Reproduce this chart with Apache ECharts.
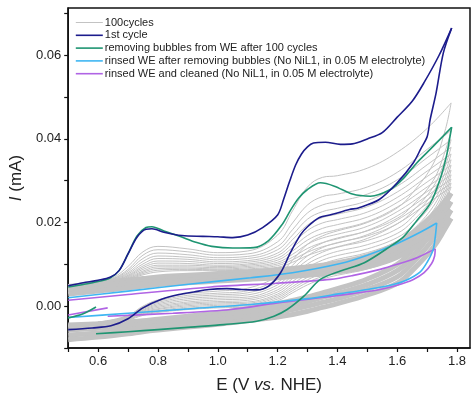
<!DOCTYPE html>
<html><head><meta charset="utf-8">
<script src="https://cdn.jsdelivr.net/npm/echarts@6/dist/echarts.min.js"></script>
<style>html,body{margin:0;padding:0;background:#fff}#c{width:471px;height:400px}</style>
</head><body><div id="c"></div>
<script>
// ---- data ----
const legendNames = ['100cycles','1st cycle','removing bubbles from WE after 100 cycles',
 'rinsed WE after removing bubbles (No NiL1, in 0.05 M electrolyte)',
 'rinsed WE and cleaned (No NiL1, in 0.05 M electrolyte)'];
const xTicks = [0.6,0.8,1.0,1.2,1.4,1.6,1.8];
const yTicks = [0.00,0.02,0.04,0.06];

// grey cycles: potentials of forward (anodic) and backward (cathodic) scans
const gxF = [0.5,0.6,0.65,0.7,0.75,0.8,0.9,1.0,1.1,1.2,1.25,1.3,1.35,1.4,1.5,1.6,1.7,1.78];
const gxB = [1.78,1.76,1.72,1.65,1.6,1.5,1.4,1.35,1.3,1.25,1.2,1.1,1.0,0.9,0.8,0.75,0.7,0.6,0.5];
const greyF = [
 [0.0046,0.0058,0.0068,0.0095,0.0130,0.0143,0.0137,0.0128,0.0132,0.0170,0.0228,0.0285,0.0308,0.0312,0.0330,0.0368,0.0425,0.0486],
 [0.0045,0.0057,0.0066,0.0088,0.0122,0.0135,0.0130,0.0122,0.0125,0.0154,0.0199,0.0242,0.0262,0.0268,0.0285,0.0320,0.0375,0.0420],
 [0.0045,0.0056,0.0065,0.0084,0.0114,0.0127,0.0123,0.0116,0.0119,0.0143,0.0183,0.0223,0.0242,0.0250,0.0268,0.0302,0.0355,0.0398],
 [0.0044,0.0055,0.0064,0.0080,0.0107,0.0120,0.0117,0.0111,0.0114,0.0135,0.0170,0.0208,0.0226,0.0234,0.0252,0.0287,0.0338,0.0380],
 [0.0044,0.0055,0.0063,0.0077,0.0101,0.0114,0.0112,0.0106,0.0109,0.0127,0.0159,0.0194,0.0212,0.0220,0.0238,0.0273,0.0323,0.0364],
 [0.0043,0.0054,0.0062,0.0074,0.0096,0.0108,0.0107,0.0102,0.0105,0.0121,0.0149,0.0181,0.0199,0.0207,0.0225,0.0260,0.0310,0.0350],
 [0.0043,0.0053,0.0061,0.0072,0.0092,0.0103,0.0102,0.0098,0.0101,0.0115,0.0140,0.0169,0.0186,0.0195,0.0213,0.0248,0.0297,0.0337],
 [0.0042,0.0053,0.0060,0.0070,0.0088,0.0098,0.0098,0.0095,0.0098,0.0110,0.0132,0.0158,0.0174,0.0183,0.0202,0.0237,0.0285,0.0325],
 [0.0042,0.0052,0.0059,0.0068,0.0084,0.0094,0.0094,0.0092,0.0095,0.0105,0.0124,0.0148,0.0163,0.0172,0.0191,0.0226,0.0274,0.0314],
 [0.0041,0.0052,0.0058,0.0066,0.0081,0.0090,0.0091,0.0089,0.0092,0.0101,0.0117,0.0138,0.0152,0.0161,0.0181,0.0216,0.0264,0.0304],
 [0.0041,0.0051,0.0057,0.0065,0.0078,0.0086,0.0088,0.0087,0.0089,0.0097,0.0111,0.0129,0.0142,0.0151,0.0171,0.0206,0.0254,0.0294],
 [0.0040,0.0051,0.0057,0.0064,0.0075,0.0082,0.0085,0.0085,0.0087,0.0093,0.0105,0.0121,0.0133,0.0142,0.0162,0.0197,0.0245,0.0285]
];
const greyB = [
 [0.0486,0.0420,0.0340,0.0270,0.0235,0.0200,0.0180,0.0168,0.0148,0.0110,0.0072,0.0043,0.0036,0.0030,0.0015,0.0000,-0.0022,-0.0038,-0.0044],
 [0.0420,0.0370,0.0300,0.0240,0.0210,0.0180,0.0163,0.0151,0.0131,0.0098,0.0064,0.0037,0.0031,0.0026,0.0012,-0.0002,-0.0023,-0.0039,-0.0045],
 [0.0398,0.0350,0.0285,0.0226,0.0197,0.0168,0.0152,0.0140,0.0120,0.0089,0.0057,0.0032,0.0027,0.0022,0.0009,-0.0004,-0.0024,-0.0040,-0.0046],
 [0.0380,0.0334,0.0272,0.0213,0.0185,0.0157,0.0141,0.0129,0.0110,0.0081,0.0051,0.0027,0.0023,0.0018,0.0006,-0.0006,-0.0025,-0.0040,-0.0046],
 [0.0364,0.0320,0.0260,0.0202,0.0174,0.0147,0.0131,0.0119,0.0101,0.0073,0.0045,0.0022,0.0019,0.0014,0.0003,-0.0008,-0.0026,-0.0041,-0.0047],
 [0.0350,0.0307,0.0249,0.0191,0.0164,0.0137,0.0121,0.0110,0.0092,0.0066,0.0039,0.0018,0.0015,0.0010,0.0000,-0.0010,-0.0027,-0.0041,-0.0047],
 [0.0337,0.0295,0.0238,0.0181,0.0155,0.0128,0.0112,0.0101,0.0084,0.0059,0.0034,0.0014,0.0011,0.0007,-0.0003,-0.0012,-0.0028,-0.0042,-0.0048],
 [0.0325,0.0284,0.0228,0.0172,0.0146,0.0119,0.0103,0.0093,0.0076,0.0053,0.0029,0.0010,0.0008,0.0004,-0.0006,-0.0014,-0.0029,-0.0042,-0.0048],
 [0.0314,0.0274,0.0219,0.0163,0.0138,0.0111,0.0095,0.0085,0.0069,0.0047,0.0025,0.0007,0.0005,0.0001,-0.0008,-0.0016,-0.0030,-0.0043,-0.0049],
 [0.0304,0.0265,0.0210,0.0155,0.0130,0.0103,0.0088,0.0078,0.0063,0.0042,0.0021,0.0004,0.0002,-0.0002,-0.0011,-0.0018,-0.0031,-0.0043,-0.0049],
 [0.0294,0.0256,0.0202,0.0147,0.0122,0.0096,0.0081,0.0071,0.0057,0.0037,0.0017,0.0001,-0.0001,-0.0005,-0.0013,-0.0020,-0.0032,-0.0044,-0.0050],
 [0.0285,0.0248,0.0194,0.0140,0.0115,0.0089,0.0074,0.0065,0.0051,0.0032,0.0013,-0.0002,-0.0004,-0.0008,-0.0015,-0.0022,-0.0033,-0.0044,-0.0050]
];
// dense late cycles (grey band)
const bandF = [
 [0.0047,0.0054,0.0058,0.0062,0.0066,0.0070,0.0074,0.0078,0.0082,0.0087,0.0090,0.0094,0.0098,0.0104,0.0120,0.0150,0.0205,0.0270],
 [0.0041,0.0048,0.0052,0.0056,0.0060,0.0064,0.0068,0.0072,0.0076,0.0080,0.0083,0.0087,0.0091,0.0096,0.0110,0.0138,0.0190,0.0250],
 [0.0035,0.0042,0.0046,0.0050,0.0054,0.0058,0.0062,0.0066,0.0070,0.0074,0.0077,0.0080,0.0084,0.0089,0.0102,0.0127,0.0175,0.0230],
 [0.0029,0.0036,0.0040,0.0044,0.0048,0.0052,0.0056,0.0060,0.0064,0.0068,0.0071,0.0074,0.0077,0.0082,0.0094,0.0117,0.0160,0.0210]
];
const bandB = [
 [0.0270,0.0245,0.0200,0.0135,0.0100,0.0065,0.0042,0.0032,0.0022,0.0014,0.0006,-0.0006,-0.0016,-0.0024,-0.0031,-0.0035,-0.0038,-0.0042,-0.0045],
 [0.0250,0.0225,0.0180,0.0118,0.0085,0.0052,0.0030,0.0021,0.0011,0.0003,-0.0004,-0.0015,-0.0024,-0.0032,-0.0039,-0.0043,-0.0047,-0.0053,-0.0057],
 [0.0230,0.0205,0.0160,0.0102,0.0070,0.0040,0.0018,0.0009,0.0000,-0.0008,-0.0015,-0.0025,-0.0033,-0.0040,-0.0047,-0.0052,-0.0057,-0.0064,-0.0069],
 [0.0210,0.0185,0.0140,0.0085,0.0055,0.0027,0.0006,-0.0003,-0.0012,-0.0020,-0.0026,-0.0035,-0.0043,-0.0050,-0.0057,-0.0061,-0.0066,-0.0074,-0.0080]
];

// 1st cycle
const firstF = [[0.5,0.0049],[0.55,0.0056],[0.6,0.0062],[0.64,0.0069],[0.67,0.0085],[0.7,0.0125],[0.73,0.0165],[0.76,0.0184],[0.78,0.0185],[0.82,0.0177],[0.88,0.0169],[0.95,0.0167],[1.0,0.0166],[1.05,0.0164],[1.1,0.0170],[1.15,0.0188],[1.2,0.0218],[1.22,0.0255],[1.24,0.0298],[1.26,0.0337],[1.28,0.0364],[1.30,0.0381],[1.32,0.0390],[1.36,0.0392],[1.41,0.0387],[1.45,0.0388],[1.5,0.0400],[1.55,0.0415],[1.6,0.0452],[1.65,0.0490],[1.69,0.0535],[1.74,0.0600],[1.782,0.0665]];
const firstB = [[1.782,0.0665],[1.754,0.0605],[1.73,0.0510],[1.71,0.0446],[1.70,0.0405],[1.68,0.0378],[1.654,0.0343],[1.6,0.0295],[1.54,0.0255],[1.47,0.0235],[1.44,0.0231],[1.38,0.0219],[1.34,0.0212],[1.3,0.0190],[1.277,0.0171],[1.243,0.0128],[1.21,0.0080],[1.17,0.0048],[1.13,0.0039],[1.08,0.0040],[1.03,0.0042],[0.97,0.0040],[0.92,0.0034],[0.87,0.0028],[0.81,0.0016],[0.75,-0.0004],[0.70,-0.0030],[0.643,-0.0047],[0.58,-0.0052],[0.5,-0.0056]];
// removing bubbles
const bubF = [[0.5,0.0046],[0.55,0.0052],[0.6,0.0059],[0.64,0.0067],[0.67,0.0085],[0.7,0.0125],[0.73,0.0168],[0.76,0.0188],[0.78,0.0190],[0.82,0.0180],[0.87,0.0168],[0.93,0.0152],[0.98,0.0143],[1.05,0.0139],[1.12,0.0140],[1.17,0.0157],[1.215,0.0195],[1.243,0.0229],[1.27,0.0258],[1.3,0.0279],[1.343,0.0295],[1.39,0.0287],[1.45,0.0268],[1.51,0.0263],[1.577,0.0279],[1.62,0.0305],[1.666,0.0343],[1.72,0.0382],[1.782,0.0428]];
const bubB = [[1.782,0.0428],[1.775,0.0400],[1.765,0.0360],[1.743,0.0303],[1.71,0.0245],[1.666,0.0205],[1.62,0.0165],[1.577,0.0143],[1.49,0.0104],[1.41,0.0084],[1.343,0.0064],[1.288,0.0024],[1.232,-0.0008],[1.188,-0.0024],[1.13,-0.0036],[1.02,-0.0044],[0.91,-0.0050],[0.8,-0.0056],[0.7,-0.0061],[0.593,-0.0066]];
const bubStart = [[0.5,-0.0028],[0.55,-0.0018],[0.593,-0.0002]];
// rinsed WE
const rinF = [[0.5,0.0020],[0.7,0.0036],[0.91,0.0053],[1.11,0.0068],[1.25,0.0080],[1.41,0.0102],[1.5,0.0122],[1.6,0.0150],[1.68,0.0178],[1.732,0.0199]];
const rinB = [[1.732,0.0199],[1.727,0.0165],[1.72,0.0135],[1.70,0.0105],[1.677,0.0082],[1.63,0.0062],[1.577,0.0050],[1.5,0.0040],[1.41,0.0030],[1.3,0.0018],[1.11,0.0004],[0.91,-0.0006],[0.7,-0.0017],[0.5,-0.0027]];
// rinsed and cleaned
const clnF = [[0.5,0.0014],[0.7,0.0028],[0.977,0.0046],[1.2,0.0055],[1.377,0.0064],[1.45,0.0073],[1.543,0.0088],[1.6,0.0100],[1.666,0.0116],[1.727,0.0137]];
const clnB = [[1.727,0.0137],[1.725,0.0120],[1.715,0.0102],[1.69,0.0080],[1.654,0.0064],[1.6,0.0050],[1.543,0.0040],[1.45,0.0030],[1.377,0.0023],[1.2,0.0008],[1.043,-0.0008],[0.85,-0.0017],[0.632,-0.0024]];
const clnStart = [[0.5,-0.0021],[0.632,-0.0004]];

// ---- build ----
const C = {grey:'#c3c3c3', navy:'#1c1c8c', green:'#1f9572', blue:'#3fb6f2', purple:'#b064e4'};
function ln(name, data, color, width, smooth){
  return {name, type:'line', data, symbol:'none', smooth: smooth===undefined?0.4:smooth,
    lineStyle:{color, width}, itemStyle:{color}, silent:true};
}
const series = [];
for (let i=0;i<bandF.length;i++){
  series.push(ln(legendNames[0], gxF.map((x,j)=>[x,bandF[i][j]]), C.grey, 5));
  series.push(ln(legendNames[0], gxB.map((x,j)=>[x,bandB[i][j]]), C.grey, 5));
}
for (let i=0;i<greyF.length;i++){
  series.push(ln(legendNames[0], gxF.map((x,j)=>[x,greyF[i][j]]), C.grey, 1));
  series.push(ln(legendNames[0], gxB.map((x,j)=>[x,greyB[i][j]]), C.grey, 1));
}
series.push(ln(legendNames[4], clnF, C.purple, 1.6, 0.3));
series.push(ln(legendNames[4], clnB, C.purple, 1.6, 0.3));
series.push(ln(legendNames[4], clnStart, C.purple, 1.6, 0.3));
series.push(ln(legendNames[3], rinF, C.blue, 1.6, 0.3));
series.push(ln(legendNames[3], rinB, C.blue, 1.6, 0.3));
series.push(ln(legendNames[2], bubF, C.green, 1.6, 0.3));
series.push(ln(legendNames[2], bubB, C.green, 1.6, 0.3));
series.push(ln(legendNames[2], bubStart, C.green, 1.6, 0.3));
series.push(ln(legendNames[1], firstF, C.navy, 1.6, 0.3));
series.push(ln(legendNames[1], firstB, C.navy, 1.6, 0.3));

const font = 'Liberation Sans, Arial, sans-serif';
const chart = echarts.init(document.getElementById('c'), null, {renderer:'canvas'});
chart.setOption({
  animation:false,
  backgroundColor:'#fff',
  grid:{left:67, right:1, top:8, bottom:52, show:true, borderColor:'#111', borderWidth:1.5, backgroundColor:'transparent'},
  legend:{
    data: legendNames.map(n=>({name:n, itemStyle:{opacity:0}, lineStyle: n===legendNames[0]?{width:1, color:C.grey}:{width:1.6}})),
    orient:'vertical', left:70, top:12, itemWidth:27, itemHeight:12, itemGap:1.8,
    textStyle:{fontFamily:font, fontSize:11, color:'#222', padding:[0,0,0,-3]},
    selectedMode:false
  },
  xAxis:{type:'value', min:0.5, max:1.8433, interval:0.1,
    axisLine:{onZero:false, lineStyle:{color:'#111', width:1.5}},
    axisTick:{length:4, lineStyle:{color:'#111', width:1.2}},
    splitLine:{show:false},
    axisLabel:{fontFamily:font, fontSize:13, color:'#222', margin:7, showMaxLabel:false,
      formatter:v=>{const s=(Math.round(v*10)/10); return xTicks.some(t=>Math.abs(t-s)<1e-6)? s.toFixed(1):'';}},
    name:'E (V {i|vs.} NHE)', nameLocation:'middle', nameGap:29,
    nameTextStyle:{fontFamily:font, fontSize:17, color:'#222', rich:{i:{fontFamily:font, fontSize:17, fontStyle:'italic', color:'#222'}}}
  },
  yAxis:{type:'value', min:-0.01, max:0.0713, interval:0.01,
    axisLine:{onZero:false, lineStyle:{color:'#111', width:1.5}},
    axisTick:{length:4, lineStyle:{color:'#111', width:1.2}},
    splitLine:{show:false},
    axisLabel:{fontFamily:font, fontSize:13, color:'#222', margin:7, showMaxLabel:false,
      formatter:v=>{const s=Math.round(v*100)/100; return yTicks.some(t=>Math.abs(t-s)<1e-9)? s.toFixed(2):'';}},
    name:'{i|I} (mA)', nameLocation:'middle', nameGap:34, nameRotate:90,
    nameTextStyle:{fontFamily:font, fontSize:17, color:'#222', rich:{i:{fontFamily:font, fontSize:17, fontStyle:'italic', color:'#222'}}}
  },
  series
});
</script></body></html>
